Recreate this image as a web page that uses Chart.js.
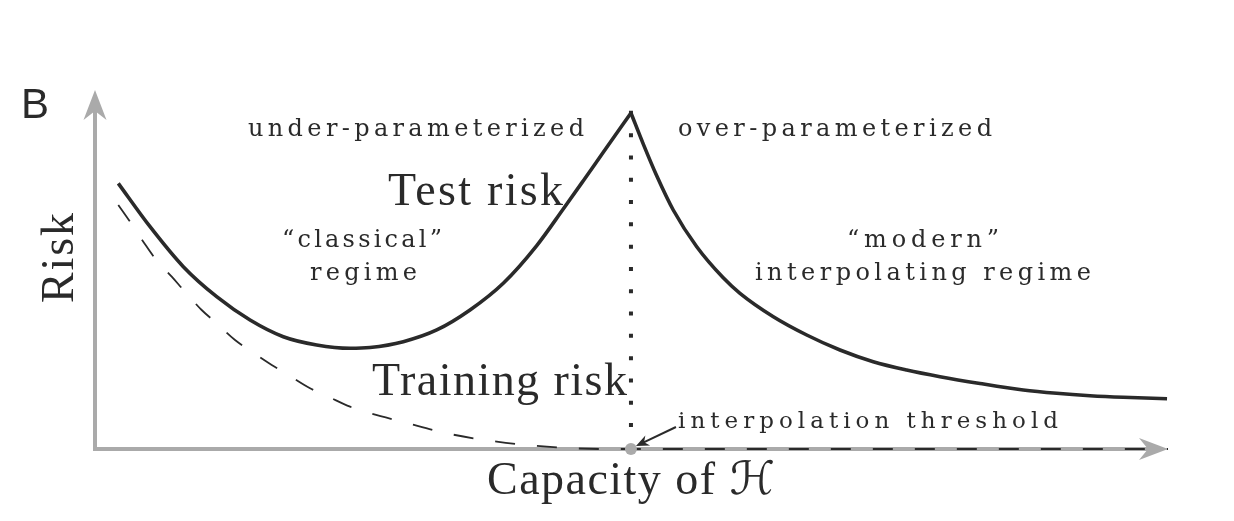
<!DOCTYPE html>
<html><head><meta charset="utf-8">
<script src="https://cdn.jsdelivr.net/npm/chart.js@4.4.1/dist/chart.umd.min.js"></script>
<style>html,body{margin:0;padding:0;background:#fff;}#wrap{width:1234px;height:521px;position:relative;}</style>
</head><body><div id="wrap"><canvas id="c"></canvas></div>
<script>
// Capacity (x, 0-100) and risk (y, 0-100)
const testX = [2.17, 5.13, 8.23, 11.34, 14.45, 17.55, 20.66, 23.77, 25.63, 28.73, 31.85, 34.95, 38.05, 41.17, 43.64, 45.51, 47.37, 49.95,
               51.10, 52.35, 53.89, 56.08, 58.55, 60.11, 63.22, 66.33, 69.43, 72.53, 75.64, 78.75, 82.48, 86.51, 89.63, 92.73, 95.83, 99.91];
const testY = [73.8, 61.75, 50.64, 42.31, 35.83, 31.19, 28.89, 27.97, 28.19, 29.81, 33.06, 38.61, 46.03, 56.5, 66.67, 74.53, 82.42, 93.33,
               84.7, 75.9, 66.39, 56.19, 47.56, 43.25, 36.75, 31.67, 27.5, 24.25, 21.94, 20.08, 18.19, 16.39, 15.47, 14.81, 14.36, 13.97];
const peakIndex = 17;
const trainX = [2.17, 3.26, 4.50, 5.59, 7.15, 8.39, 9.94, 11.34, 13.05, 14.60, 16.47, 18.01, 20.04, 21.74, 23.77, 25.63, 28.73, 32.78, 37.44, 42.10, 47.37, 49.95, 100];
const trainY = [67.78, 63.14, 57.58, 52.97, 47.86, 43.69, 38.61, 34.92, 30.28, 27.03, 23.33, 20.56, 16.86, 14.53, 11.75, 9.92, 7.5, 4.36, 2.03, 0.64, 0, 0, 0];
const thresholdX = 49.95;
const labels = {
  panel: "B",
  yTitle: "Risk",
  xTitle: "Capacity of \u210B",
  under: "under-parameterized",
  over: "over-parameterized",
  test: "Test risk",
  train: "Training risk",
  classical: ["\u201Cclassical\u201D", "regime"],
  modern: ["\u201Cmodern\u201D", "interpolating regime"],
  threshold: "interpolation threshold"
};

const pts = (xs, ys) => xs.map((x, i) => ({x, y: ys[i]}));
const testLeft = pts(testX.slice(0, peakIndex + 1), testY.slice(0, peakIndex + 1));
const testRight = pts(testX.slice(peakIndex), testY.slice(peakIndex));
const train = pts(trainX, trainY);
const peakY = testY[peakIndex];

const INK = '#2a2a2a';
const AXIS = '#aaaaaa';
const SERIF = '"Liberation Serif", "DejaVu Serif", "DejaVu Sans", serif';
const SMALL = '"DejaVu Serif", "Liberation Serif", serif';

function fit(ctx, str, x, y, size, width, family) {
  ctx.save();
  ctx.font = size + 'px ' + family;
  ctx.letterSpacing = '0px';
  const w = ctx.measureText(str).width;
  const n = Array.from(str).length;
  let ls = n > 1 ? (width - w) / (n - 1) : 0;
  if (ls < -0.5) { size = size * width / w; ctx.font = size + 'px ' + family; ls = 0; }
  ctx.letterSpacing = ls + 'px';
  ctx.textAlign = 'left';
  ctx.textBaseline = 'alphabetic';
  ctx.fillStyle = INK;
  ctx.fillText(str, x, y);
  ctx.restore();
}

function arrowHead(ctx, tx, ty, dx, dy, len, half, notch, color) {
  const px = -dy, py = dx;
  ctx.beginPath();
  ctx.moveTo(tx, ty);
  ctx.lineTo(tx - dx * len + px * half, ty - dy * len + py * half);
  ctx.lineTo(tx - dx * notch, ty - dy * notch);
  ctx.lineTo(tx - dx * len - px * half, ty - dy * len - py * half);
  ctx.closePath();
  ctx.fillStyle = color;
  ctx.fill();
}

const axesPlugin = {
  id: 'axesArrows',
  beforeDatasetsDraw(chart) {
    const ctx = chart.ctx, a = chart.chartArea;
    ctx.save();
    ctx.strokeStyle = AXIS;
    ctx.lineWidth = 4;
    ctx.lineCap = 'butt';
    ctx.beginPath();
    ctx.moveTo(a.left, a.bottom);
    ctx.lineTo(a.left, a.top + 20);
    ctx.moveTo(a.left - 2, a.bottom);
    ctx.lineTo(a.right - 20, a.bottom);
    ctx.stroke();
    arrowHead(ctx, a.left, a.top + 1, 0, -1, 30, 11.5, 21, AXIS);
    arrowHead(ctx, a.right, a.bottom, 1, 0, 29, 11, 20, AXIS);
    ctx.restore();
  },
  afterDatasetsDraw(chart) {
    const ctx = chart.ctx;
    const xs = chart.scales.x, ys = chart.scales.y;
    const px = xs.getPixelForValue(thresholdX), py = ys.getPixelForValue(0);
    // interpolation threshold arrow
    ctx.save();
    const tx = px + 5, ty = py - 3;
    const sx = px + 45, sy = py - 22;
    const L = Math.hypot(tx - sx, ty - sy), dx = (tx - sx) / L, dy = (ty - sy) / L;
    ctx.strokeStyle = INK; ctx.lineWidth = 2;
    ctx.beginPath(); ctx.moveTo(sx, sy); ctx.lineTo(tx - dx * 8, ty - dy * 8); ctx.stroke();
    arrowHead(ctx, tx, ty, dx, dy, 13, 5.5, 9, INK);
    ctx.restore();

    // texts
    fit(ctx, labels.panel, 21, 118, 42, 26, '"Liberation Sans", Arial, sans-serif');
    fit(ctx, labels.under, 248, 136, 24, 336, SMALL);
    fit(ctx, labels.over, 678, 136, 24, 314, SMALL);
    fit(ctx, labels.test, 388, 205, 46, 175, SERIF);
    fit(ctx, labels.classical[0], 282, 247, 24, 160, SMALL);
    fit(ctx, labels.classical[1], 310, 280, 24, 107, SMALL);
    fit(ctx, labels.modern[0], 847, 247, 24, 152, SMALL);
    fit(ctx, labels.modern[1], 755, 280, 24, 336, SMALL);
    fit(ctx, labels.train, 372, 395, 46, 255, SERIF);
    fit(ctx, labels.threshold, 678, 428, 23, 380, SMALL);
    fit(ctx, labels.xTitle, 487, 494, 46, 288, SERIF);
    ctx.save();
    ctx.translate(73, 303);
    ctx.rotate(-Math.PI / 2);
    fit(ctx, labels.yTitle, 0, 0, 46, 90, SERIF);
    ctx.restore();
  }
};

new Chart(document.getElementById('c'), {
  type: 'line',
  data: {
    datasets: [
      { label: 'threshold point', data: [{x: thresholdX, y: 0}], showLine: false,
        pointRadius: 6, pointBackgroundColor: AXIS, pointBorderWidth: 0, order: 0, clip: false },
      { label: 'Test risk (under)', data: testLeft, borderColor: INK, borderWidth: 3.6,
        cubicInterpolationMode: 'monotone', pointRadius: 0, fill: false, order: 1, clip: false, borderCapStyle: 'butt' },
      { label: 'Test risk (over)', data: testRight, borderColor: INK, borderWidth: 3.6,
        cubicInterpolationMode: 'monotone', pointRadius: 0, fill: false, order: 1, clip: false, borderCapStyle: 'butt' },
      { label: 'Training risk', data: train, borderColor: INK, borderWidth: 1.8, borderDash: [20, 22],
        cubicInterpolationMode: 'monotone', pointRadius: 0, fill: false, order: 2, clip: false },
      { label: 'threshold line', data: [{x: thresholdX, y: peakY + 0.6}, {x: thresholdX, y: 0}], borderColor: INK,
        borderWidth: 4, borderDash: [4, 18.3], borderCapStyle: 'butt', pointRadius: 0, fill: false, order: 3, clip: false }
    ]
  },
  options: {
    responsive: true,
    maintainAspectRatio: false,
    animation: false,
    layout: { padding: { left: 95, right: 66, top: 89, bottom: 72 } },
    scales: {
      x: { type: 'linear', min: 0, max: 100, display: false },
      y: { type: 'linear', min: 0, max: 100, display: false }
    },
    plugins: { legend: { display: false }, tooltip: { enabled: false } },
    events: []
  },
  plugins: [axesPlugin]
});
</script>
</body></html>
